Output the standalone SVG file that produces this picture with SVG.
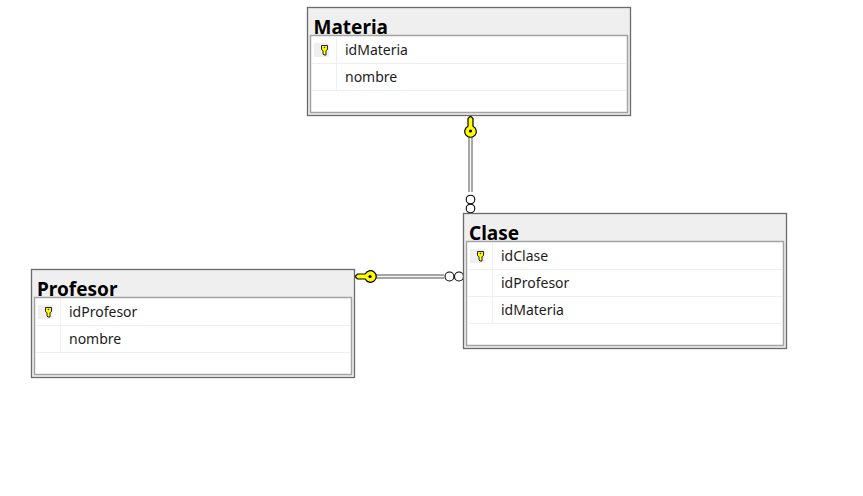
<svg xmlns="http://www.w3.org/2000/svg" width="863" height="496" viewBox="0 0 863 496">
<style>
.outer{fill:#efefef;stroke:#6a6a6a;stroke-width:1.3}
.inner{fill:#fff;stroke:#a4a4a4;stroke-width:1.5}
.sep{stroke:#efefef;stroke-width:1;fill:none}
.title{font-family:"Noto Sans","Open Sans",sans-serif;font-weight:700;font-size:19px;fill:#000}
.field{font-family:"Noto Sans","Open Sans",sans-serif;font-size:14px;fill:#1c1c1c}
.keybg{fill:#efefef}
.pk{fill:#ffff00;stroke:#222;stroke-width:1}
.rail{fill:none;stroke:#8a8a8a;stroke-width:4.500}
.railc{fill:none;stroke:#f4f4f4;stroke-width:1.600}
.ring{fill:#fff;stroke:#000;stroke-width:1.100}
.bigkey{fill:#ffff00;stroke:#000;stroke-width:1.200}
</style>
<defs>
<g id="smallkey">
<rect class="keybg" x="0" y="0" width="15" height="14"/>
<path class="pk" d="M7.500 2.500h6v4l-1.500 1.200v4.300h-2l-1-1v-3.300l-1.500-1.200z"/>
<circle cx="10.500" cy="4.500" r=".8" fill="#222"/>
</g>
<g id="bigkeyshape">
<path class="bigkey" d="M0 -4 L-2.500 -1.500V6.200A5.800 5.800 0 1 0 2.500 6.200V-1.500z"/>
<circle cx="0" cy="11" r="1.600" fill="#000"/>
</g>
</defs>
<g id="connectors">
<path class="rail" d="M470.500 137V192"/>
<path class="railc" d="M470.500 137V192"/>
<circle class="ring" cx="470.500" cy="199.500" r="4.300"/>
<circle class="ring" cx="470.500" cy="208.500" r="4.300"/>
<use href="#bigkeyshape" transform="translate(470.500 120)"/>
<path class="rail" d="M376 276.500H444"/>
<path class="railc" d="M376 276.500H444"/>
<circle class="ring" cx="449.500" cy="276.500" r="4.500"/>
<circle class="ring" cx="459" cy="276.500" r="4.500"/>
<use href="#bigkeyshape" transform="translate(359 276.500) rotate(-90)"/>
</g>
<g id="materia">
<rect class="outer" x="307.500" y="7.500" width="323" height="108"/>
<text class="title" x="313.500" y="33.500">Materia</text>
<rect class="inner" x="310.500" y="35.500" width="317" height="77"/>
<path class="sep" d="M312 63.500H626M312 90.500H626M336.500 37V90"/>
<use href="#smallkey" transform="translate(314 43)"/>
<text class="field" x="345" y="54.500">idMateria</text>
<text class="field" x="345" y="81.500">nombre</text>
</g>
<g id="clase">
<rect class="outer" x="463.500" y="213.500" width="323" height="135"/>
<text class="title" x="469" y="239.500">Clase</text>
<rect class="inner" x="466.500" y="241.500" width="317" height="104"/>
<path class="sep" d="M468 269.500H782M468 296.500H782M468 323.500H782M492.500 243V323"/>
<use href="#smallkey" transform="translate(470 249)"/>
<text class="field" x="501" y="260.500">idClase</text>
<text class="field" x="501" y="287.500">idProfesor</text>
<text class="field" x="501" y="314.500">idMateria</text>
</g>
<g id="profesor">
<rect class="outer" x="31.500" y="269.500" width="323" height="108"/>
<text class="title" x="37" y="295.500">Profesor</text>
<rect class="inner" x="34.500" y="297.500" width="317" height="77"/>
<path class="sep" d="M36 325.500H350M36 352.500H350M60.500 299V352"/>
<use href="#smallkey" transform="translate(38 305)"/>
<text class="field" x="69" y="316.500">idProfesor</text>
<text class="field" x="69" y="343.500">nombre</text>
</g>
</svg>
